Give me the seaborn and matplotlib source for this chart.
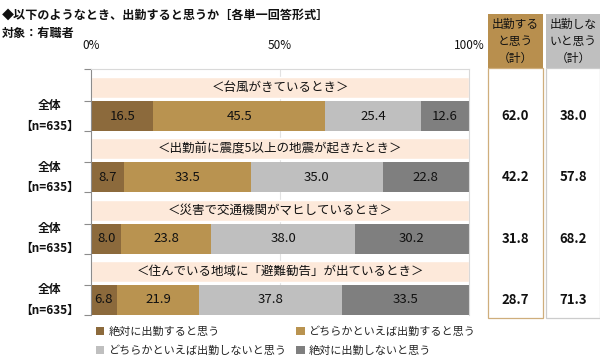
import matplotlib
matplotlib.use("Agg")
import matplotlib.pyplot as plt
import matplotlib.transforms as mtransforms
from matplotlib.patches import Patch, Rectangle
import numpy as np
import pandas as pd
import seaborn as sns


# Data
scenes = [
    "＜台風がきているとき＞",
    "＜出勤前に震度5以上の地震が起きたとき＞",
    "＜災害で交通機関がマヒしているとき＞",
    "＜住んでいる地域に「避難勧告」が出ているとき＞",
]
answers = [
    "絶対に出勤すると思う",
    "どちらかといえば出勤すると思う",
    "どちらかといえば出勤しないと思う",
    "絶対に出勤しないと思う",
]
definitely_go = [16.5, 8.7, 8.0, 6.8]
rather_go = [45.5, 33.5, 23.8, 21.9]
rather_not = [25.4, 35.0, 38.0, 37.8]
definitely_not = [12.6, 22.8, 30.2, 33.5]
total_go = [62.0, 42.2, 31.8, 28.7]
total_not = [38.0, 57.8, 68.2, 71.3]
group_label = "全体\n【n=635】"
x_ticks = [0, 50, 100]
x_tick_labels = ["0%", "50%", "100%"]

colors = ["#8C6A3C", "#B99350", "#BFBFBF", "#7F7F7F"]
band_color = "#FDE9DA"

W, H = 600, 363


def fx(px):
    return px / W


def fy(py):
    return 1 - py / H


sns.set_theme(style="white")
plt.rcParams["font.family"] = ["Noto Sans CJK JP", "DejaVu Sans"]

vals = np.array([definitely_go, rather_go, rather_not, definitely_not]).T
cum = np.cumsum(vals, axis=1)

fig = plt.figure(figsize=(6, 3.63), dpi=100)
ax = fig.add_axes([fx(91), fy(315), fx(469) - fx(91), fy(69) - fy(315)])

# stacked bars: draw cumulative totals from the longest to the shortest
for j in reversed(range(len(answers))):
    df = pd.DataFrame({"scene": scenes, "value": cum[:, j]})
    sns.barplot(
        data=df, x="value", y="scene", orient="h", color=colors[j],
        saturation=1, width=0.49, linewidth=0, ax=ax, zorder=2,
    )

# scene title bands above each bar
pos = np.arange(len(scenes))
ax.barh(pos - 0.465, 100, height=0.34, left=0, color=band_color, zorder=1)
for i, s in enumerate(scenes):
    ax.text(50, i - 0.465, s, ha="center", va="center", fontsize=9, color="#111111", zorder=3)

# segment labels
for i in range(len(scenes)):
    left = 0
    for j in range(len(answers)):
        v = vals[i, j]
        ax.text(left + v / 2, i, f"{v:.1f}", ha="center", va="center",
                fontsize=9.5, color="#111111", zorder=3)
        left += v

ax.axvline(50, color="#E2E2E2", lw=0.8, zorder=0.5)
ax.set_xlim(0, 100)
ax.set_ylim(3.245, -0.767)
ax.set_xlabel("")
ax.set_ylabel("")

ax.xaxis.tick_top()
ax.set_xticks(x_ticks)
ax.set_xticklabels(x_tick_labels, fontsize=8.5, color="#111111")
ax.tick_params(axis="x", length=0, pad=12)

ax.set_yticks([])
edges = [-0.767] + [e for p in pos for e in (p - 0.245, p + 0.245)]
ax.set_yticks(edges, minor=True)
ax.tick_params(axis="y", which="minor", left=True, length=5, width=0.8,
               color="#8C8C8C", direction="out")

for side in ["top", "right"]:
    ax.spines[side].set_color("#D9D9D9")
    ax.spines[side].set_linewidth(0.8)
ax.spines["left"].set_color("#8C8C8C")
ax.spines["left"].set_linewidth(0.8)
ax.spines["bottom"].set_visible(False)

# left group labels
lab_tr = mtransforms.blended_transform_factory(fig.transFigure, ax.transData)
for i in pos:
    ax.text(fx(50), i, group_label, transform=lab_tr, ha="center", va="center",
            fontsize=8.5, fontweight="bold", linespacing=1.75, color="#111111")

# right summary table (boxes behind the axes so the texts stay visible)
def px_rect(x0, y0, x1, y1, **kw):
    fig.patches.append(Rectangle((fx(x0), fy(y1)), fx(x1) - fx(x0), fy(y0) - fy(y1),
                                 transform=fig.transFigure, zorder=-1, **kw))


px_rect(488, 14, 543, 68, facecolor="#B88F4E", edgecolor="none")
px_rect(546, 14, 600, 68, facecolor="#BFBFBF", edgecolor="none")
px_rect(488, 68, 543, 318, facecolor="white", edgecolor="#CFAE7C", linewidth=0.9)
px_rect(546, 68, 599.5, 318, facecolor="white", edgecolor="#CCCCCC", linewidth=0.9)
fig.text(fx(515.5), fy(41), "出勤する\nと思う\n（計）", ha="center", va="center",
         fontsize=8.5, linespacing=1.4, color="#111111", zorder=5)
fig.text(fx(573), fy(41), "出勤しな\nいと思う\n（計）", ha="center", va="center",
         fontsize=8.5, linespacing=1.4, color="#111111", zorder=5)
for i in pos:
    fig.text(fx(515.5), i, f"{total_go[i]:.1f}", transform=lab_tr, ha="center",
             va="center", fontsize=9.5, fontweight="bold", color="#111111", zorder=5)
    fig.text(fx(573), i, f"{total_not[i]:.1f}", transform=lab_tr, ha="center",
             va="center", fontsize=9.5, fontweight="bold", color="#111111", zorder=5)

# titles
fig.text(fx(2), fy(15), "◆以下のようなとき、出勤すると思うか［各単一回答形式］",
         ha="left", va="center", fontsize=8.7, fontweight="bold", color="#111111")
fig.text(fx(2), fy(33), "対象：有職者", ha="left", va="center",
         fontsize=8.7, fontweight="bold", color="#111111")

# legend (column-wise order to match the reference layout)
order = [0, 2, 1, 3]
handles = [Patch(facecolor=colors[k], edgecolor="none") for k in order]
fig.legend(handles, [answers[k] for k in order], loc="upper left",
           bbox_to_anchor=(fx(96), fy(326)), ncol=2, frameon=False, fontsize=8,
           handlelength=0.75, handleheight=0.75, handletextpad=0.35,
           columnspacing=0.9, labelspacing=0.8, borderaxespad=0, borderpad=0)

fig.savefig("out.png", dpi=100)
